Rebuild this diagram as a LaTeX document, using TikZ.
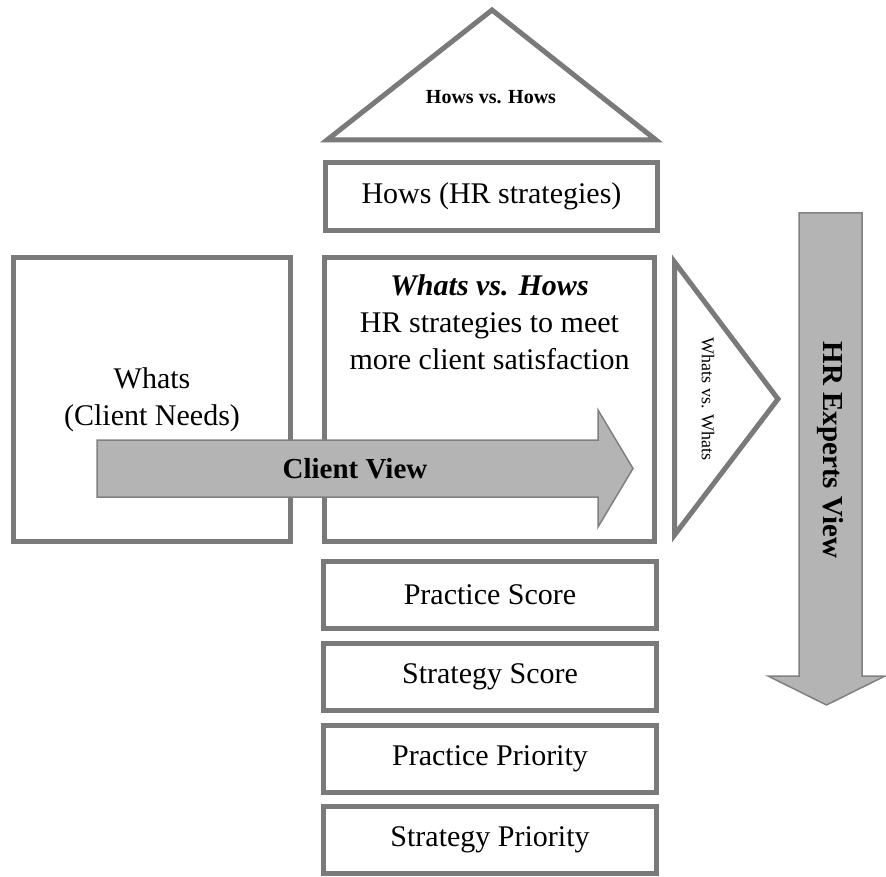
\documentclass[tikz,border=0pt]{standalone}
\usepackage{fontspec}
\setmainfont{Liberation Serif}
\definecolor{boxgray}{RGB}{122,122,122}
\definecolor{arrowgray}{RGB}{180,180,180}
\definecolor{arrowline}{RGB}{128,128,128}
\begin{document}
\begin{tikzpicture}[x=1pt, y=-1pt]
			\tikzstyle{box}      = [rectangle, draw=boxgray, line width=5pt, fill=white, inner sep=0pt, align=center, font=\fontsize{30}{37}\selectfont]
			\tikzstyle{tri}      = [draw=boxgray, line width=5pt, fill=white]
			\tikzstyle{bigarrow} = [draw=arrowline, line width=1.5pt, fill=arrowgray]

			\useasboundingbox (0,0) rectangle (886,877);

			% roof
			\draw[tri] (492,10) -- (656,140) -- (327,140) -- cycle;
			\node[font=\fontsize{20}{24}\selectfont\bfseries] (hvh) at (491,97) {Hows vs. Hows};

			\node[box, minimum width=332, minimum height=68] (hows) at (491.5,196.5) {Hows (HR strategies)};
			\node[box, minimum width=277, minimum height=284] (whats) at (152,399.5) {Whats\\(Client Needs)};
			\node[box, minimum width=330, minimum height=284] (wvh) at (489.5,399.5) {};
			\node[anchor=north, align=center, inner sep=0pt, font=\fontsize{30}{37}\selectfont] (wvhtext) at (489.5,274) {\textbf{\textit{Whats vs. Hows}}\\HR strategies to meet\\more client satisfaction};

			% right side triangle
			\draw[tri] (674.5,262) -- (778,399) -- (674.5,535) -- cycle;
			\node[rotate=-90, font=\fontsize{18}{22}\selectfont] (wvw) at (708,399) {Whats vs. Whats};

			\foreach \name/\y/\label in {pscore/595/Practice Score, sscore/676.5/Strategy Score, ppriority/759/Practice Priority, spriority/840/Strategy Priority}
				\node[box, minimum width=333, minimum height=67] (\name) at (490,\y) {\label};

			% views
			\draw[bigarrow] (97,440) -- (598,440) -- (598,410) -- (633,468.5) -- (598,527) -- (598,497) -- (97,497) -- cycle;
			\node[font=\fontsize{29}{34}\selectfont\bfseries] (client) at (355,469) {Client View};

			\draw[bigarrow] (799,213) -- (862,213) -- (862,676) -- (885,676) -- (826.5,705) -- (768,676) -- (799,676) -- cycle;
			\node[rotate=-90, font=\fontsize{29}{34}\selectfont\bfseries] (hrview) at (830,450) {HR Experts View};
\end{tikzpicture}
\end{document}
